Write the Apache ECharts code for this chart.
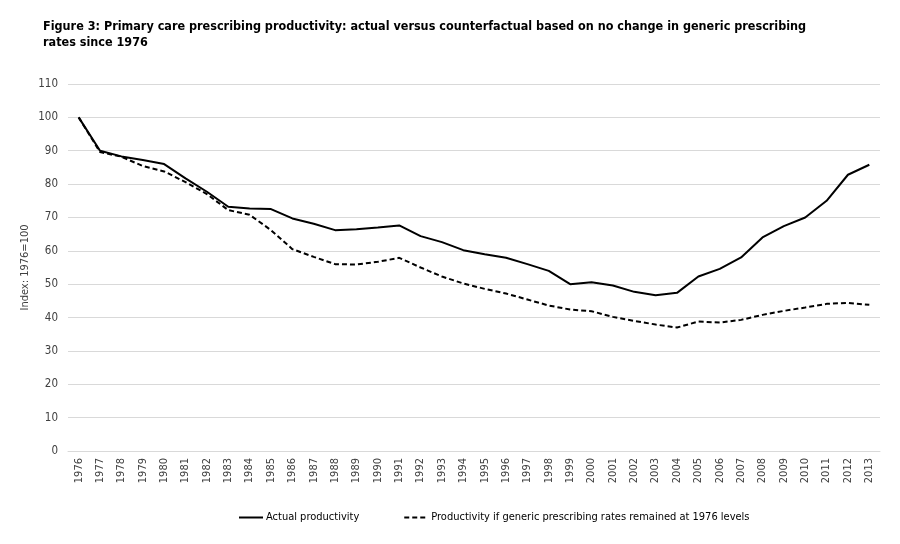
<!DOCTYPE html>
<html>
<head>
<meta charset="utf-8">
<script src="https://cdn.jsdelivr.net/npm/echarts@6/dist/echarts.min.js"></script>
<style>
  html, body { margin: 0; padding: 0; background: #fff; }
  #chart { width: 900px; height: 544px; }
</style>
</head>
<body>
<div id="chart"></div>
<script>
// data
const years = [];
for (let y = 1976; y <= 2013; y++) years.push(String(y));

const actual = [100, 90, 88.3, 87.2, 86, 81.7, 77.7, 73.2, 72.7, 72.5,
  69.7, 68.1, 66.2, 66.5, 67, 67.6, 64.4, 62.6, 60.2, 59,
  57.9, 56, 54, 50, 50.6, 49.6, 47.7, 46.7, 47.4, 52.3,
  54.6, 58, 64, 67.4, 70, 75, 82.8, 85.8];

const counterfactual = [100, 89.6, 88.2, 85.4, 83.8, 80.6, 77, 72.2, 70.8, 66.2,
  60.5, 58.2, 56, 55.9, 56.7, 57.9, 55, 52.3, 50.2, 48.6,
  47.2, 45.4, 43.6, 42.4, 41.9, 40.2, 39, 37.9, 37, 38.8,
  38.5, 39.3, 40.8, 42, 43, 44.1, 44.4, 43.8];

const yTicks = { min: 0, max: 110, interval: 10 };

const chart = echarts.init(document.getElementById('chart'));
const font = '"DejaVu Sans Condensed", "Noto Sans", sans-serif';

chart.setOption({
  animation: false,
  title: {
    text: 'Figure 3: Primary care prescribing productivity: actual versus counterfactual based on no change in generic prescribing\nrates since 1976',
    left: 38,
    top: 14,
    textStyle: { fontFamily: font, fontSize: 12.5, fontWeight: 'bold', color: '#000', lineHeight: 16 }
  },
  grid: { left: 68, right: 20, top: 84, bottom: 93 },
  legend: {
    bottom: 16,
    left: 233,
    itemGap: 44,
    itemWidth: 24,
    itemHeight: 10,
    itemStyle: { opacity: 0 },
    textStyle: { fontFamily: font, fontSize: 11, color: '#000', padding: [0, 0, 0, -2] },
    data: ['Actual productivity', 'Productivity if generic prescribing rates remained at 1976 levels']
  },
  xAxis: {
    type: 'category',
    data: years,
    boundaryGap: true,
    axisLine: { show: true, lineStyle: { color: '#d9d9d9' } },
    axisTick: { show: false },
    axisLabel: { rotate: 90, interval: 0, fontFamily: font, fontSize: 11, color: '#404040', margin: 7 }
  },
  yAxis: {
    type: 'value',
    min: yTicks.min,
    max: yTicks.max,
    interval: yTicks.interval,
    name: 'Index: 1976=100',
    nameLocation: 'middle',
    nameGap: 37,
    nameMoveOverlap: false,
    nameTextStyle: { fontFamily: font, fontSize: 11, color: '#404040' },
    axisLine: { show: false },
    axisTick: { show: false },
    axisLabel: { fontFamily: font, fontSize: 11.5, color: '#404040', margin: 10 },
    splitLine: { lineStyle: { color: '#d9d9d9' } }
  },
  series: [
    {
      name: 'Actual productivity',
      type: 'line',
      data: actual,
      symbol: 'none',
      lineStyle: { color: '#000', width: 2 },
      itemStyle: { color: '#000' }
    },
    {
      name: 'Productivity if generic prescribing rates remained at 1976 levels',
      type: 'line',
      data: counterfactual,
      symbol: 'none',
      lineStyle: { color: '#000', width: 2, type: [5, 3] },
      itemStyle: { color: '#000' }
    }
  ]
});
</script>
</body>
</html>
